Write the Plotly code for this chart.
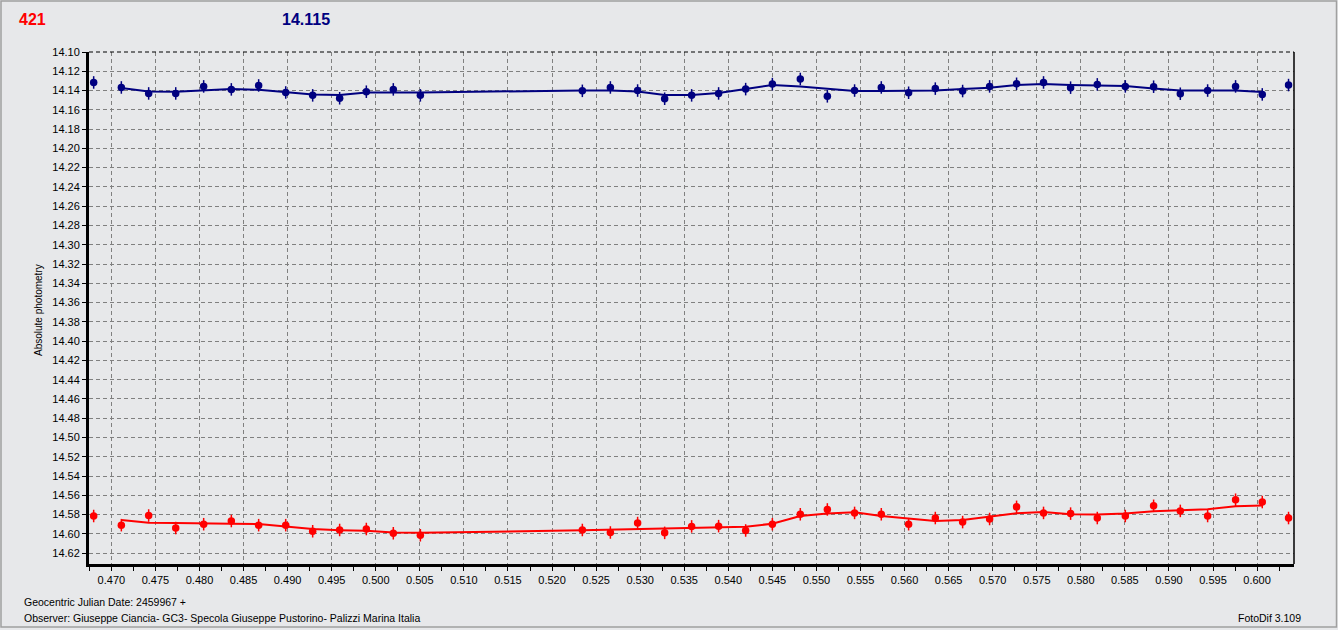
import plotly.graph_objects as go

# ---------------- data ----------------
jd = [0.46799, 0.47113, 0.47423, 0.47730, 0.48047, 0.48361, 0.48671, 0.48978,
      0.49284, 0.49590, 0.49893, 0.50199, 0.50506, 0.52344, 0.52662, 0.52971,
      0.53278, 0.53584, 0.53890, 0.54197, 0.54500, 0.54817, 0.55124, 0.55433,
      0.55736, 0.56046, 0.56349, 0.56659, 0.56965, 0.57271, 0.57577, 0.57884,
      0.58187, 0.58505, 0.58826, 0.59129, 0.59439, 0.59756, 0.60059, 0.60357]

comp_mag = [14.1316, 14.1368, 14.1430, 14.1430, 14.1357, 14.1388, 14.1347, 14.1420,
            14.1450, 14.1480, 14.1412, 14.1388, 14.1450, 14.1403, 14.1368, 14.1400,
            14.1485, 14.1450, 14.1430, 14.1385, 14.1333, 14.1280, 14.1460, 14.1400,
            14.1368, 14.1423, 14.1380, 14.1405, 14.1357, 14.1330, 14.1316, 14.1370,
            14.1336, 14.1357, 14.1360, 14.1433, 14.1400, 14.1357, 14.1440, 14.1343]

comp_fit = [14.1374, 14.1409, 14.1412, 14.1399, 14.1384, 14.1392, 14.1416, 14.1440,
            14.1447, 14.1420, 14.1420, 14.1420, 14.1399, 14.1399, 14.1409, 14.1447,
            14.1447, 14.1426, 14.1384, 14.1343, 14.1357, 14.1384, 14.1405, 14.1405,
            14.1399, 14.1399, 14.1384, 14.1370, 14.1343, 14.1333, 14.1343, 14.1350,
            14.1353, 14.1378, 14.1399, 14.1399, 14.1399, 14.1415]

var_mag = [14.5815, 14.5910, 14.5810, 14.5940, 14.5900, 14.5867, 14.5910, 14.5910,
           14.5973, 14.5960, 14.5950, 14.5994, 14.6015, 14.5960, 14.5986, 14.5888,
           14.5990, 14.5923, 14.5920, 14.5965, 14.5900, 14.5797, 14.5747, 14.5783,
           14.5797, 14.5900, 14.5836, 14.5878, 14.5846, 14.5720, 14.5783, 14.5790,
           14.5836, 14.5815, 14.5709, 14.5762, 14.5815, 14.5646, 14.5670, 14.5836]

var_fit = [14.5857, 14.5884, 14.5888, 14.5895, 14.5895, 14.5899, 14.5926, 14.5951,
           14.5962, 14.5968, 14.5986, 14.5990, 14.5962, 14.5955, 14.5951, 14.5944,
           14.5937, 14.5934, 14.5926, 14.5895, 14.5815, 14.5790, 14.5776, 14.5815,
           14.5842, 14.5867, 14.5857, 14.5825, 14.5786, 14.5773, 14.5797, 14.5800,
           14.5790, 14.5765, 14.5758, 14.5744, 14.5713, 14.5705]

err_mag = 0.0065
y_ticks = [round(14.10 + 0.02 * i, 2) for i in range(27)]
x_ticks = [round(0.470 + 0.005 * i, 3) for i in range(27)]

header_left = "421"
header_mid = "14.115"
y_title = "Absolute photometry"
footer1 = "Geocentric Julian Date: 2459967 +"
footer2 = "Observer: Giuseppe Ciancia- GC3- Specola Giuseppe Pustorino- Palizzi Marina Italia"
footer3 = "FotoDif 3.109"

BLUE = "#000080"
RED = "#FF0000"
BG = "#E7E8EA"
GRID = "#808080"

fig = go.Figure()

fig.add_trace(go.Scatter(x=jd[1:1 + len(comp_fit)], y=comp_fit, mode="lines",
                         line=dict(color=BLUE, width=2), hoverinfo="skip"))
fig.add_trace(go.Scatter(x=jd[1:1 + len(var_fit)], y=var_fit, mode="lines",
                         line=dict(color=RED, width=2), hoverinfo="skip"))
fig.add_trace(go.Scatter(x=jd, y=comp_mag, mode="markers",
                         marker=dict(color=BLUE, size=7.5, symbol="circle"),
                         error_y=dict(type="constant", value=err_mag, visible=True,
                                      color=BLUE, thickness=1.5, width=0)))
fig.add_trace(go.Scatter(x=jd, y=var_mag, mode="markers",
                         marker=dict(color=RED, size=7.5, symbol="circle"),
                         error_y=dict(type="constant", value=err_mag, visible=True,
                                      color=RED, thickness=1.5, width=0)))

L, R, T, B = 89, 44, 52, 66
W, H = 1338, 630
pw, ph = W - L - R, H - T - B


def px(xp):
    return (xp - L) / pw


def py(yp):
    return (H - B - yp) / ph


tick_font = dict(family="Liberation Sans, Arial", size=11, color="#000000")

fig.update_layout(
    width=W, height=H,
    margin=dict(l=L, r=R, t=T, b=B, pad=0),
    paper_bgcolor=BG, plot_bgcolor=BG,
    showlegend=False,
    xaxis=dict(range=[0.46746, 0.60419], tickvals=x_ticks,
               ticktext=[f"{v:.3f}" for v in x_ticks],
               showgrid=True, gridcolor=GRID, griddash="4px,3px", gridwidth=1,
               showline=True, linecolor="#000000", linewidth=3,
               ticks="outside", ticklen=4, tickcolor="#000000", tickwidth=1,
               minor=dict(dtick=0.0025, tick0=0.4675, ticks="outside", ticklen=4,
                          tickcolor="#000000", showgrid=False),
               tickfont=tick_font, zeroline=False),
    yaxis=dict(range=[14.6313, 14.10], tickvals=y_ticks,
               ticktext=[f"{v:.2f}" for v in y_ticks],
               showgrid=True, gridcolor=GRID, griddash="4px,3px", gridwidth=1,
               showline=True, linecolor="#000000", linewidth=3,
               ticks="outside", ticklen=4, tickcolor="#000000", tickwidth=1,
               tickfont=tick_font, zeroline=False),
    font=dict(family="Liberation Sans, Arial", color="#000000"),
)

shapes = [
    # right border
    dict(type="line", xref="paper", yref="paper", x0=1, x1=1, y0=0, y1=1,
         line=dict(color="#000000", width=1.5)),
    # top dashed edge
    dict(type="line", xref="paper", yref="paper", x0=0, x1=1, y0=1, y1=1,
         line=dict(color="#000000", width=1.2, dash="4px,3px")),
    # outer frame
    dict(type="rect", xref="paper", yref="paper", x0=px(1), x1=px(1336.5),
         y0=py(627), y1=py(1), line=dict(color="#A0A0A0", width=1.5)),
]
fig.update_layout(shapes=shapes)

ann = [
    dict(text=f"<b>{header_left}</b>", x=px(17), y=py(19), xanchor="left", yanchor="middle",
         font=dict(size=16, color=RED, family="Liberation Sans, Arial")),
    dict(text=f"<b>{header_mid}</b>", x=px(280), y=py(19), xanchor="left", yanchor="middle",
         font=dict(size=16, color=BLUE, family="Liberation Sans, Arial")),
    dict(text=y_title, x=px(38), y=py(310), xanchor="center", yanchor="middle",
         textangle=-90, font=dict(size=10, color="#000000", family="Liberation Sans, Arial")),
    dict(text=footer1, x=px(22), y=py(602), xanchor="left", yanchor="middle",
         font=dict(size=10.5, color="#000000", family="Liberation Sans, Arial")),
    dict(text=footer2, x=px(22), y=py(618), xanchor="left", yanchor="middle",
         font=dict(size=10.5, color="#000000", family="Liberation Sans, Arial")),
    dict(text=footer3, x=px(1303), y=py(618), xanchor="right", yanchor="middle",
         font=dict(size=10.5, color="#000000", family="Liberation Sans, Arial")),
]
for a in ann:
    a.update(xref="paper", yref="paper", showarrow=False)
fig.update_layout(annotations=ann)

fig.write_html("out.html", config={"displayModeBar": False},
               post_script="document.body.style.margin='0';document.body.style.padding='0';"
                           "document.body.style.overflow='hidden';")
